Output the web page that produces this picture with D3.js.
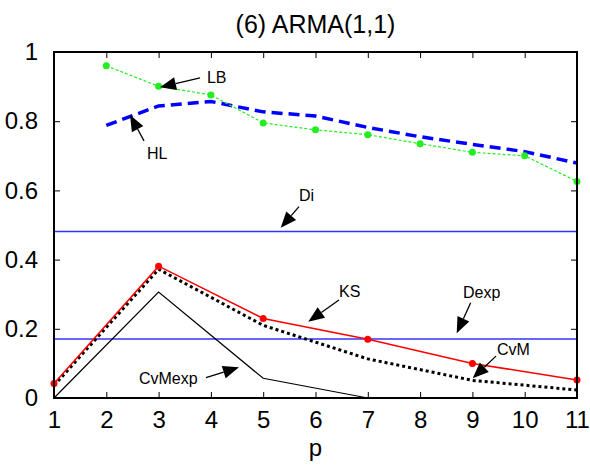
<!DOCTYPE html>
<html>
<head>
<meta charset="utf-8">
<script src="https://cdn.jsdelivr.net/npm/d3@7"></script>
<style>
  body { margin: 0; background: #fff; }
  svg { display: block; font-family: "Liberation Sans", Arial, sans-serif; }
</style>
</head>
<body>
<svg id="chart" width="590" height="472"></svg>
<script>
// ---- data ----
const title = "(6) ARMA(1,1)";
const xLabel = "p";
const xTicks = [1, 2, 3, 4, 5, 6, 7, 8, 9, 10, 11];
const yTicks = [0, 0.2, 0.4, 0.6, 0.8, 1];
const yTickLabels = ["0", "0.2", "0.4", "0.6", "0.8", "1"];

const pLB = [2, 3, 4, 5, 6, 7, 8, 9, 10, 11];
const LB  = [0.960, 0.901, 0.876, 0.795, 0.775, 0.761, 0.735, 0.710, 0.700, 0.626];
const pHL = [2, 3, 4, 5, 6, 7, 8, 9, 10, 11];
const HL  = [0.788, 0.844, 0.857, 0.827, 0.815, 0.782, 0.755, 0.733, 0.712, 0.679];
const pOdd = [1, 3, 5, 7, 9, 11];
const KS     = [0.042, 0.381, 0.230, 0.170, 0.100, 0.052];
const CvM    = [0.036, 0.372, 0.210, 0.113, 0.051, 0.023];
const CvMexp = [0.000, 0.306, 0.057, 0.000, 0.000, 0.000];
const Di   = 0.481;
const Dexp = 0.1705;

// annotations in data coordinates: label, text anchor point, arrow tail, arrow tip
const annLabels = ["LB", "HL", "Di", "KS", "Dexp", "CvM", "CvMexp"];
const annText = [[3.925, 0.911], [2.778, 0.691], [5.685, 0.570], [6.449, 0.293], [8.820, 0.289], [9.470, 0.124], [2.625, 0.040]];
const annTail = [[3.792, 0.925], [2.721, 0.743], [5.685, 0.553], [6.449, 0.283], [8.967, 0.275], [9.451, 0.121], [3.906, 0.0587]];
const annTip  = [[3.027, 0.898], [2.453, 0.818], [5.335, 0.492], [5.862, 0.2205], [8.700, 0.187], [9.006, 0.057], [4.537, 0.0887]];

// ---- layout ----
const svg = d3.select("#chart");
const L = 54, R = 577, T = 52, B = 398;
const x = d3.scaleLinear().domain([1, 11]).range([L, R]);
const y = d3.scaleLinear().domain([0, 1]).range([B, T]);

const line = d3.line().x(d => x(d[0])).y(d => y(d[1]));
const zip = (a, b) => a.map((v, i) => [v, b[i]]);

const plot = svg.append("g");

// horizontal lines Di and Dexp
[Di, Dexp].forEach(v => {
  plot.append("path").attr("d", line([[1, v], [11, v]]))
    .attr("fill", "none").attr("stroke", "#3333ff").attr("stroke-width", 1.5);
});

// CvMexp thin black
plot.append("path").attr("d", line(zip(pOdd, CvMexp)))
  .attr("fill", "none").attr("stroke", "#000").attr("stroke-width", 1.2);

// CvM dotted thick black
plot.append("path").attr("d", line(zip(pOdd, CvM)))
  .attr("fill", "none").attr("stroke", "#000").attr("stroke-width", 3)
  .attr("stroke-dasharray", "3,3");

// KS red with markers
plot.append("path").attr("d", line(zip(pOdd, KS)))
  .attr("fill", "none").attr("stroke", "#ff0000").attr("stroke-width", 1.5);
plot.selectAll(".ks").data(zip(pOdd, KS)).join("circle")
  .attr("cx", d => x(d[0])).attr("cy", d => y(d[1])).attr("r", 3.5).attr("fill", "#ff0000");

// HL thick dashed blue
plot.append("path").attr("d", line(zip(pHL, HL)))
  .attr("fill", "none").attr("stroke", "#0000ff").attr("stroke-width", 3.5)
  .attr("stroke-dasharray", "11,6");

// LB green dotted with markers
plot.append("path").attr("d", line(zip(pLB, LB)))
  .attr("fill", "none").attr("stroke", "#22ee22").attr("stroke-width", 1.2)
  .attr("stroke-dasharray", "3,2");
plot.selectAll(".lb").data(zip(pLB, LB)).join("circle")
  .attr("cx", d => x(d[0])).attr("cy", d => y(d[1])).attr("r", 3.5).attr("fill", "#22ee22");

// ---- axes ----
const tickLen = 6;
const ax = svg.append("g");
// bottom axis
const gB = ax.append("g").attr("transform", `translate(0,${B})`)
  .call(d3.axisBottom(x).tickValues(xTicks).tickSize(-tickLen).tickPadding(13).tickFormat(d3.format("d")));
// top axis
const gT = ax.append("g").attr("transform", `translate(0,${T})`)
  .call(d3.axisTop(x).tickValues(xTicks).tickSize(-tickLen).tickFormat(""));
// left axis
const gL = ax.append("g").attr("transform", `translate(${L},0)`)
  .call(d3.axisLeft(y).tickValues(yTicks).tickSize(-tickLen).tickPadding(16).tickFormat((d, i) => yTickLabels[i]));
// right axis
const gR = ax.append("g").attr("transform", `translate(${R},0)`)
  .call(d3.axisRight(y).tickValues(yTicks).tickSize(-tickLen).tickFormat(""));

[gB, gT, gL, gR].forEach(g => {
  g.select(".domain").remove();
  g.selectAll(".tick line").attr("stroke", "#000").attr("stroke-width", 1);
  g.selectAll("text").attr("font-size", 24).attr("fill", "#000")
    .attr("font-family", "'Liberation Sans', Arial, sans-serif");
});
gB.selectAll(".tick text").attr("dy", "0.71em");

// box
ax.append("rect").attr("x", L).attr("y", T).attr("width", R - L).attr("height", B - T)
  .attr("fill", "none").attr("stroke", "#000").attr("stroke-width", 2);

// title and x label
svg.append("text").attr("x", (L + R) / 2).attr("y", 33).attr("text-anchor", "middle")
  .attr("font-size", 25).text(title);
svg.append("text").attr("x", (L + R) / 2).attr("y", 456).attr("text-anchor", "middle")
  .attr("font-size", 24).text(xLabel);

// ---- annotations ----
const ann = svg.append("g");
annLabels.forEach((lab, i) => {
  const tx = x(annTail[i][0]), ty = y(annTail[i][1]);
  const hx = x(annTip[i][0]), hy = y(annTip[i][1]);
  const dx = hx - tx, dy = hy - ty, len = Math.hypot(dx, dy);
  const ux = dx / len, uy = dy / len;
  const headL = 16, headW = 6.5;
  const bx = hx - ux * headL, by = hy - uy * headL;
  ann.append("line").attr("x1", tx).attr("y1", ty).attr("x2", bx).attr("y2", by)
    .attr("stroke", "#000").attr("stroke-width", 1.3);
  ann.append("path")
    .attr("d", `M${hx},${hy}L${bx - uy * headW},${by + ux * headW}L${bx + uy * headW},${by - ux * headW}Z`)
    .attr("fill", "#000");
  ann.append("text").attr("x", x(annText[i][0])).attr("y", y(annText[i][1]))
    .attr("font-size", 16).attr("fill", "#000").text(lab);
});
</script>
</body>
</html>
